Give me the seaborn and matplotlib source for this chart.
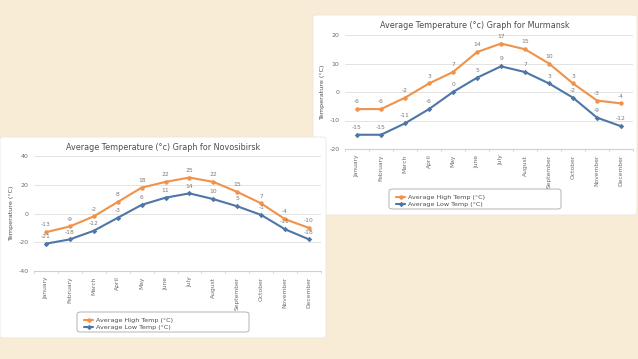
import numpy as np
import pandas as pd
import matplotlib
matplotlib.use("Agg")
import matplotlib.pyplot as plt
import seaborn as sns
from matplotlib.patches import FancyBboxPatch

# ==========================================
# Data
# ==========================================

months = ["January", "February", "March", "April", "May", "June",
          "July", "August", "September", "October", "November", "December"]

murmansk_high = [-6, -6, -2, 3, 7, 14, 17, 15, 10, 3, -3, -4]
murmansk_low = [-15, -15, -11, -6, 0, 5, 9, 7, 3, -2, -9, -12]

novosibirsk_high = [-13, -9, -2, 8, 18, 22, 25, 22, 15, 7, -4, -10]
novosibirsk_low = [-21, -18, -12, -3, 6, 11, 14, 10, 5, -1, -11, -18]

series_names = ["Average High Temp (°C)", "Average Low Temp (°C)"]
series_colors = ["#F0924A", "#4E76A6"]
series_markers = ["o", "D"]

W, H = 638, 359
BG = "#F8ECD7"
TEXT = "#4d4d4d"
TICK = "#6b6b6b"

sns.set_theme(style="white")
plt.rcParams["font.family"] = ["DejaVu Sans"]
plt.rcParams["axes.unicode_minus"] = False

fig = plt.figure(figsize=(W / 100, H / 100), dpi=100)
fig.patch.set_facecolor(BG)


def px_box(x0, y0, x1, y1):
    # pixel box (top-left origin) -> figure fraction [left, bottom, width, height]
    return [x0 / W, 1 - y1 / H, (x1 - x0) / W, (y1 - y0) / H]


def draw_panel(panel, axbox, legbox, title, high, low, ylim, yticks, z):
    l, b, w, h = px_box(*panel)
    fig.patches.append(FancyBboxPatch((l, b), w, h, boxstyle="round,pad=0,rounding_size=0.006",
                                      transform=fig.transFigure, facecolor="white",
                                      edgecolor="#ece6dc", linewidth=0.6, zorder=z))
    # legend box (drawn under the axes so the legend sits on top)
    lx, ly, lw, lh = px_box(*legbox)
    fig.patches.append(FancyBboxPatch((lx, ly), lw, lh, boxstyle="round,pad=0,rounding_size=0.006",
                                      transform=fig.transFigure, facecolor="white",
                                      edgecolor="#a8a8a8", linewidth=0.6, zorder=z + 0.5))

    ax = fig.add_axes(px_box(*axbox))
    ax.set_zorder(z + 1)
    ax.patch.set_alpha(0)

    df = pd.DataFrame({"month": months * 2,
                       "temp": high + low,
                       "series": [series_names[0]] * 12 + [series_names[1]] * 12})
    for name, color, mk in zip(series_names, series_colors, series_markers):
        sub = df[df["series"] == name]
        sns.lineplot(data=sub, x="month", y="temp", color=color, marker=mk,
                     markersize=3.2 if mk == "o" else 2.8, markeredgewidth=0,
                     linewidth=1.5, label=name, ax=ax, sort=False)
        for i, v in enumerate(sub["temp"]):
            ax.annotate(str(v), (i, v), xytext=(0, 3.5), textcoords="offset points",
                        ha="center", va="bottom", fontsize=4.3, color="#7a7a7a")

    ax.set_xlim(-0.5, len(months) - 0.5)
    ax.set_ylim(*ylim)
    ax.set_yticks(yticks)
    ax.set_xticks(range(len(months)))
    ax.set_xticklabels(months, rotation=90, fontsize=4.3, color=TICK)
    ax.tick_params(axis="y", labelsize=4.5, labelcolor=TICK, length=0, pad=4)
    ax.tick_params(axis="x", length=0, pad=4)
    ax.grid(axis="y", color="#e3e3e3", linewidth=0.7)
    for s in ["top", "right", "left"]:
        ax.spines[s].set_visible(False)
    ax.spines["bottom"].set_color("#c6d3e0")
    ax.spines["bottom"].set_linewidth(0.8)
    for k in range(len(months) + 1):
        ax.plot([k - 0.5, k - 0.5], [ylim[0], ylim[0] - (ylim[1] - ylim[0]) * 0.02],
                color="#c6d3e0", linewidth=0.6, clip_on=False)
    ax.set_xlabel("")
    ax.set_ylabel("Temperature (°C)", fontsize=4.6, color=TEXT, labelpad=3)

    # title centred over the panel
    fig.text((panel[0] + panel[2]) / 2 / W, 1 - (panel[1] + 10) / H, title,
             ha="center", va="center", fontsize=5.8, color=TEXT, zorder=z + 2)

    handles, labels = ax.get_legend_handles_labels()
    leg = ax.legend(handles, labels, loc="upper left",
                    bbox_to_anchor=((legbox[0] + 3) / W, 1 - (legbox[1] + 1) / H),
                    bbox_transform=fig.transFigure, frameon=False, fontsize=4.6,
                    handlelength=1.3, handletextpad=0.5, labelspacing=0.25,
                    borderpad=0.2)
    for t in leg.get_texts():
        t.set_color(TEXT)
    return ax


# Murmansk (behind)
draw_panel(panel=(313, 15, 637, 215), axbox=(345, 35, 633, 149),
           legbox=(389, 189, 561, 209),
           title="Average Temperature (°c) Graph for Murmansk",
           high=murmansk_high, low=murmansk_low,
           ylim=(-20, 20), yticks=[-20, -10, 0, 10, 20], z=1)

# Novosibirsk (front)
draw_panel(panel=(0, 137, 326, 338), axbox=(34, 156, 321, 271),
           legbox=(77, 312, 249, 332),
           title="Average Temperature (°c) Graph for Novosibirsk",
           high=novosibirsk_high, low=novosibirsk_low,
           ylim=(-40, 40), yticks=[-40, -20, 0, 20, 40], z=5)

fig.savefig("out.png", dpi=100, facecolor=BG)
